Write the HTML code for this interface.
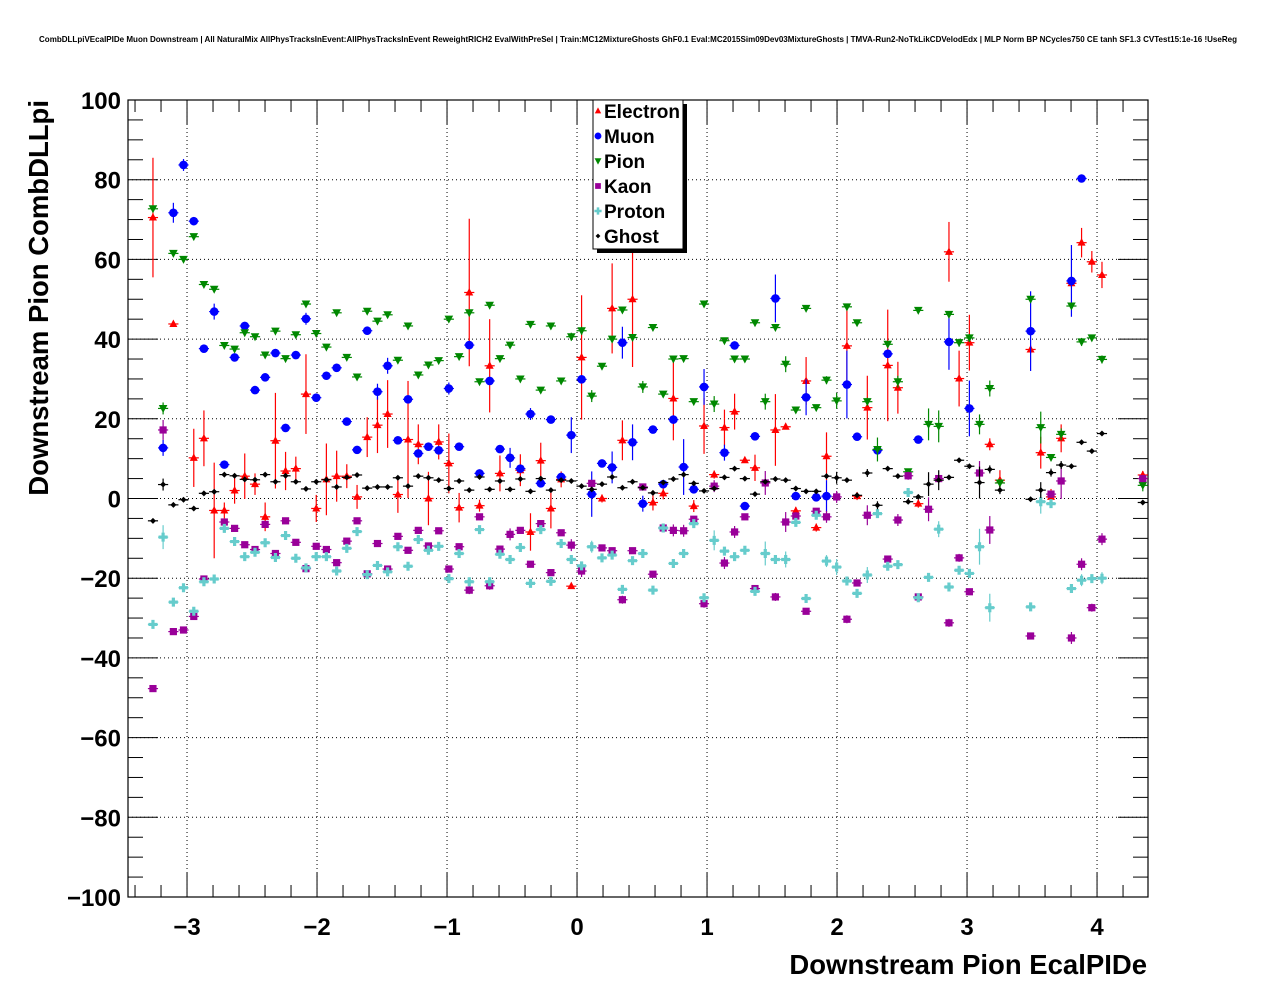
<!DOCTYPE html>
<html><head><meta charset="utf-8">
<style>
html,body{margin:0;padding:0;background:#fff;}
svg{display:block;font-family:"Liberation Sans",Arial,sans-serif;}
</style></head>
<body>
<svg id="chart" width="1276" height="996" viewBox="0 0 1276 996" xmlns="http://www.w3.org/2000/svg">
<rect x="0" y="0" width="1276" height="996" fill="#fff"/>
<text x="638" y="42" text-anchor="middle" font-size="8.2" font-weight="bold" textLength="1198" lengthAdjust="spacingAndGlyphs">CombDLLpiVEcalPIDe Muon Downstream | All NaturalMix AllPhysTracksInEvent:AllPhysTracksInEvent ReweightRICH2 EvalWithPreSel | Train:MC12MixtureGhosts GhF0.1 Eval:MC2015Sim09Dev03MixtureGhosts | TMVA-Run2-NoTkLikCDVelodEdx | MLP Norm BP NCycles750 CE tanh SF1.3 CVTest15:1e-16 !UseReg</text>
<g id="grid"></g>
<g id="axes"></g>
<g id="marks"></g>
<text x="1147" y="974" text-anchor="end" font-size="27.5" font-weight="bold">Downstream Pion EcalPIDe</text>
<text transform="translate(48,100) rotate(-90)" text-anchor="end" font-size="27.5" font-weight="bold">Downstream Pion CombDLLpi</text>
<g id="legend"></g>
</svg>
<script>
const xTicks = [-3,-2,-1,0,1,2,3,4];
const yTicks = [-100,-80,-60,-40,-20,0,20,40,60,80,100];
const xRange = [-3.454, 4.392];
const yRange = [-100, 100];
const seriesNames = ["Electron","Muon","Pion","Kaon","Proton","Ghost"];
const seriesColors = ["#ff0000","#0000ff","#008800","#990099","#66cccc","#000000"];
// points: [x, y, yErr]
const electron = [[-3.262,70.5,15],[-3.105,43.8,0.5],[-2.948,10.2,7.3],[-2.870,15.1,7],[-2.791,-3,12],[-2.713,-3,2],[-2.634,2,3.3],[-2.556,5.6,5.7],[-2.477,3.6,2.7],[-2.399,-4.6,3.6],[-2.320,14.5,12],[-2.242,6.9,4.8],[-2.163,7.5,3],[-2.085,26.2,10],[-2.006,-2.5,3.4],[-1.928,4.8,9],[-1.849,5.6,6.4],[-1.771,5.6,3],[-1.692,0.4,3],[-1.614,15.4,5],[-1.535,18.4,7],[-1.457,21.2,8.5],[-1.378,1,4.6],[-1.300,14.8,14.7],[-1.221,13.6,5],[-1.143,0,6.7],[-1.064,14.2,4.4],[-0.986,8.8,7.5],[-0.907,-2.3,3.7],[-0.829,51.7,18.5],[-0.750,-1.8,1.5],[-0.672,33.3,11.7],[-0.593,6.3,4.5],[-0.436,7.1,4],[-0.358,-8.4,4.7],[-0.279,9.5,4.5],[-0.201,-2.5,5],[-0.122,4.8,2],[-0.044,-22,0.5],[0.035,35.4,15.6],[0.192,0,1],[0.270,47.7,11.3],[0.349,14.6,5],[0.427,50,17],[0.584,-1,2],[0.663,1.3,1.5],[0.741,25.1,10.5],[0.898,-1.9,1.5],[0.977,18.2,7],[1.055,6,1],[1.134,17.8,4.5],[1.212,21.8,4.5],[1.291,9.6,0.5],[1.369,7.7,3.3],[1.526,17.2,9],[1.605,18,0.5],[1.683,-3.1,1],[1.762,29.5,6],[1.840,-7.3,1],[1.919,10.6,6],[2.076,38.3,9.5],[2.154,0.6,1],[2.233,22.8,8],[2.390,33.4,14],[2.468,27.8,6.5],[2.625,-1.3,1],[2.861,61.9,7.5],[2.939,30.1,7],[3.018,39.1,7],[3.175,13.6,1.5],[3.253,4.6,2.5],[3.489,37.4,1],[3.567,11.5,4],[3.646,0.4,2],[3.724,15.1,3.5],[3.803,54,1],[3.881,64.2,3.7],[3.960,59.4,2.7],[4.038,56.1,3.3],[4.352,5.9,1]];
const muon = [[-3.184,12.7,2],[-3.105,71.7,2.5],[-3.027,83.7,1.5],[-2.948,69.6,0.5],[-2.870,37.6,0.5],[-2.791,46.9,2],[-2.713,8.5,0.5],[-2.634,35.4,0.5],[-2.556,43.3,0.5],[-2.477,27.2,0.5],[-2.399,30.4,0.5],[-2.320,36.5,0.5],[-2.242,17.7,0.5],[-2.163,36,0.5],[-2.085,45.1,1.5],[-2.006,25.3,0.5],[-1.928,30.8,0.5],[-1.849,32.8,0.5],[-1.771,19.3,0.5],[-1.692,12.2,0.5],[-1.614,42.1,1],[-1.535,26.8,2],[-1.457,33.3,2],[-1.378,14.6,0.5],[-1.300,24.9,0.5],[-1.221,11.3,1],[-1.143,13,0.5],[-1.064,12.1,1],[-0.986,27.6,1.5],[-0.907,13,0.5],[-0.829,38.5,0.5],[-0.750,6.3,0.5],[-0.672,29.5,0.5],[-0.593,12.4,0.5],[-0.515,10.2,2.5],[-0.436,7.5,0.5],[-0.358,21.2,1.5],[-0.279,3.8,0.5],[-0.201,19.8,1],[-0.122,5.4,1],[-0.044,15.9,4.5],[0.035,29.9,0.5],[0.113,1.1,5.7],[0.192,8.8,0.5],[0.270,7.8,4],[0.349,39.1,4],[0.427,14.1,4.5],[0.506,-1.3,2],[0.584,17.3,0.5],[0.663,3.6,0.5],[0.741,19.8,0.5],[0.820,7.9,7],[0.898,2.3,0.5],[0.977,28,4.5],[1.134,11.5,2],[1.212,38.4,0.5],[1.291,-1.9,1],[1.369,15.6,0.5],[1.526,50.2,6],[1.683,0.6,0.5],[1.762,25.4,4.5],[1.840,0.3,0.5],[1.919,0.6,4],[2.076,28.6,8.5],[2.154,15.5,0.5],[2.311,12.1,0.5],[2.390,36.3,0.5],[2.625,14.8,0.5],[2.861,39.3,7],[3.018,22.6,7],[3.489,42,10],[3.803,54.6,9],[3.881,80.3,0.5]];
const pion = [[-3.262,72.7,0.5],[-3.184,22.6,1.5],[-3.105,61.5,0.5],[-3.027,60,0.5],[-2.948,65.7,0.5],[-2.870,53.7,0.5],[-2.791,52.5,0.5],[-2.713,38.4,0.5],[-2.634,37.5,0.5],[-2.556,41.6,0.5],[-2.477,40.6,0.5],[-2.399,36,0.5],[-2.320,42,0.5],[-2.242,35.1,0.5],[-2.163,41.1,0.5],[-2.085,48.8,0.5],[-2.006,41.4,0.5],[-1.928,38,0.5],[-1.849,46.6,0.5],[-1.771,35.4,0.5],[-1.692,30.5,0.5],[-1.614,47,0.5],[-1.535,44.5,0.5],[-1.457,46.1,0.5],[-1.378,34.7,0.5],[-1.300,43.3,0.5],[-1.221,31,0.5],[-1.143,33.5,0.5],[-1.064,34.6,0.5],[-0.986,45,0.5],[-0.907,35.6,0.5],[-0.829,46.6,0.5],[-0.750,29.3,0.5],[-0.672,48.5,0.5],[-0.593,35.1,0.5],[-0.515,38.5,0.5],[-0.436,30,0.5],[-0.358,43.7,0.5],[-0.279,27.2,0.5],[-0.201,43.3,0.5],[-0.122,29.5,0.5],[-0.044,40.6,1],[0.035,42.1,1],[0.113,25.7,1.5],[0.192,33.2,0.5],[0.270,40,0.5],[0.349,47.3,0.5],[0.427,40.4,0.5],[0.506,28,1.5],[0.584,42.9,0.5],[0.663,26.2,0.5],[0.741,35,0.5],[0.820,35.1,0.5],[0.898,24.3,0.5],[0.977,48.8,0.5],[1.055,23.7,2],[1.134,39.6,0.5],[1.212,35,0.5],[1.291,35,0.5],[1.369,44.1,0.5],[1.448,24.3,2],[1.526,42.9,0.5],[1.605,33.7,2],[1.683,22.2,0.5],[1.762,47.7,0.5],[1.840,22.8,0.5],[1.919,29.7,1],[1.997,24.5,2],[2.076,48.1,0.5],[2.154,44.1,0.5],[2.233,24.3,1],[2.311,12.3,3],[2.390,38.7,0.5],[2.468,29.3,1.5],[2.547,6.7,0.5],[2.625,47.2,0.5],[2.704,18.6,4],[2.782,18.1,4],[2.861,46.2,0.5],[2.939,39.1,1],[3.018,40.3,1],[3.096,18.6,2.5],[3.175,27.6,2],[3.253,3.9,1],[3.489,50,0.5],[3.567,17.8,4],[3.646,10.3,0.5],[3.724,16.1,1.5],[3.803,48.3,0.5],[3.881,39.3,1],[3.960,40.3,0.5],[4.038,34.9,1],[4.352,3.3,1.5]];
const kaon = [[-3.262,-47.7,0.5],[-3.184,17.2,2.5],[-3.105,-33.4,0.5],[-3.027,-33,0.5],[-2.948,-29.6,0.5],[-2.870,-20.2,0.5],[-2.713,-5.9,0.5],[-2.634,-7.5,0.5],[-2.556,-11.6,0.5],[-2.477,-12.8,0.5],[-2.399,-6.5,0.5],[-2.320,-13.8,0.5],[-2.242,-5.6,0.5],[-2.163,-11,0.5],[-2.085,-17.6,0.5],[-2.006,-12,0.5],[-1.928,-12.8,0.5],[-1.849,-16.1,0.5],[-1.771,-10.7,0.5],[-1.692,-5.6,0.5],[-1.614,-18.9,0.5],[-1.535,-11.3,0.5],[-1.457,-17.7,0.5],[-1.378,-9.5,0.5],[-1.300,-13,0.5],[-1.221,-8,0.5],[-1.143,-11.9,0.5],[-1.064,-8.1,0.5],[-0.986,-17.7,0.5],[-0.907,-12.1,0.5],[-0.829,-23,1],[-0.750,-4.6,0.5],[-0.672,-21.9,1],[-0.593,-12.7,0.5],[-0.515,-9,1.5],[-0.436,-8,0.5],[-0.358,-16.5,0.5],[-0.279,-6.3,0.5],[-0.201,-18.6,0.5],[-0.122,-8.6,0.5],[-0.044,-11.7,1.5],[0.035,-18.2,1.5],[0.113,3.8,0.5],[0.192,-12.4,0.5],[0.270,-13.1,0.5],[0.349,-25.4,1],[0.427,-13.1,0.5],[0.506,2.9,0.5],[0.584,-19,0.5],[0.663,-7.4,0.5],[0.741,-8,1.5],[0.820,-8.1,1.5],[0.898,-5.2,0.5],[0.977,-26.4,1],[1.055,3.1,1.5],[1.134,-16.2,1.5],[1.212,-8.4,1.5],[1.291,-4.6,0.5],[1.369,-22.6,0.5],[1.448,3.9,3],[1.526,-24.7,1],[1.605,-5.9,2.5],[1.683,-4.4,1],[1.762,-28.3,0.5],[1.840,-3.2,0.5],[1.919,-4.6,1.5],[1.997,0.4,1.5],[2.076,-30.3,1],[2.154,-21.2,0.5],[2.233,-4.2,2.5],[2.390,-15.2,0.5],[2.468,-5.4,1.5],[2.547,5.7,1],[2.625,-24.7,0.5],[2.704,-2.7,3],[2.782,5,0.5],[2.861,-31.2,1],[2.939,-14.9,1],[3.018,-23.4,0.5],[3.096,6.4,3],[3.175,-7.9,3.5],[3.489,-34.5,0.5],[3.646,1.1,0.5],[3.724,4.4,4.5],[3.803,-35,1.5],[3.881,-16.5,1.5],[3.960,-27.4,1],[4.038,-10.2,1.5],[4.352,5,0.5]];
const proton = [[-3.262,-31.6,0.5],[-3.184,-9.7,3],[-3.105,-26,0.5],[-3.027,-22.4,0.5],[-2.948,-28.3,0.5],[-2.870,-20.9,0.5],[-2.791,-20.2,0.5],[-2.713,-7.5,0.5],[-2.634,-10.8,0.5],[-2.556,-14.6,0.5],[-2.477,-13.5,0.5],[-2.399,-11.1,0.5],[-2.320,-14.8,0.5],[-2.242,-9.3,0.5],[-2.163,-15,0.5],[-2.085,-17.4,0.5],[-2.006,-14.6,0.5],[-1.928,-14.6,0.5],[-1.849,-18.2,0.5],[-1.771,-12.5,0.5],[-1.692,-8.3,0.5],[-1.614,-19.1,0.5],[-1.535,-16.8,0.5],[-1.457,-18.4,0.5],[-1.378,-12.1,0.5],[-1.300,-17,0.5],[-1.221,-10.3,0.5],[-1.143,-13,0.5],[-1.064,-12,0.5],[-0.986,-20.1,0.5],[-0.907,-13.8,0.5],[-0.829,-20.9,0.5],[-0.750,-7.8,0.5],[-0.672,-20.9,0.5],[-0.593,-14,0.5],[-0.515,-15.3,0.5],[-0.436,-12.3,0.5],[-0.358,-21.3,0.5],[-0.279,-7.8,0.5],[-0.201,-20.8,0.5],[-0.122,-11.3,0.5],[-0.044,-15.3,1],[0.035,-16.9,0.5],[0.113,-12.1,1.5],[0.192,-14.9,0.5],[0.270,-14.2,1],[0.349,-22.8,0.5],[0.427,-15.6,1],[0.506,-13.8,1],[0.584,-23,0.5],[0.663,-7.4,0.5],[0.741,-16.3,1],[0.820,-13.8,1],[0.898,-6.3,0.5],[0.977,-24.9,1],[1.055,-10.5,2.5],[1.134,-13.2,1],[1.212,-14.6,1],[1.291,-13,1],[1.369,-23.3,0.5],[1.448,-13.8,3],[1.526,-15.3,1],[1.605,-15.3,2],[1.683,-6,0.5],[1.762,-25.1,0.5],[1.840,-4.2,0.5],[1.919,-15.7,1.5],[1.997,-17.2,2],[2.076,-20.7,0.5],[2.154,-23.8,0.5],[2.233,-19.2,2],[2.311,-3.8,0.5],[2.390,-17,1],[2.468,-16.6,1],[2.547,1.5,0.5],[2.625,-24.9,0.5],[2.704,-19.8,0.5],[2.782,-7.7,2],[2.861,-22.2,0.5],[2.939,-18,1],[3.018,-18.8,0.5],[3.096,-12.1,4.5],[3.175,-27.4,3.5],[3.489,-27.2,0.5],[3.567,-0.8,3],[3.646,-1.3,0.5],[3.803,-22.6,0.5],[3.881,-20.5,1.5],[3.960,-20.1,1],[4.038,-20,1.5]];
const ghost = [[-3.262,-5.6,0.5],[-3.184,3.5,1.5],[-3.105,-1.6,0.5],[-3.027,-0.3,0.5],[-2.948,-2.5,0.5],[-2.870,1.3,0.5],[-2.791,1.7,0.5],[-2.713,6,0.5],[-2.634,5.7,0.5],[-2.556,4.8,0.5],[-2.477,4.7,0.5],[-2.399,6,0.5],[-2.320,4.2,0.5],[-2.242,5.7,0.5],[-2.163,4.2,0.5],[-2.085,2.4,0.5],[-2.006,4.2,0.5],[-1.928,4.7,0.5],[-1.849,2.9,0.5],[-1.771,5.3,0.5],[-1.692,5.9,0.5],[-1.614,2.6,0.5],[-1.535,2.9,0.5],[-1.457,2.9,0.5],[-1.378,5.2,0.5],[-1.300,3.1,0.5],[-1.221,5.6,0.5],[-1.143,5.2,0.5],[-1.064,4.6,0.5],[-0.986,2.5,0.5],[-0.907,4.4,0.5],[-0.829,2.1,0.5],[-0.750,5.4,0.5],[-0.672,2.3,0.5],[-0.593,4.4,0.5],[-0.515,2.3,0.5],[-0.436,4.9,0.5],[-0.358,1.8,0.5],[-0.279,5,0.5],[-0.201,2.1,0.5],[-0.122,4.6,0.5],[-0.044,4.4,0.5],[0.035,3.1,0.5],[0.113,2.3,0.5],[0.192,3.6,0.5],[0.270,5.4,0.5],[0.349,2.7,0.5],[0.427,4.2,0.5],[0.506,2.7,0.5],[0.584,1.4,0.5],[0.663,4,0.5],[0.741,4.9,0.5],[0.820,6,0.5],[0.898,3.8,0.5],[0.977,1.9,0.5],[1.055,2.5,0.5],[1.134,5.3,0.5],[1.212,7.5,0.5],[1.291,5,0.5],[1.369,1.1,0.5],[1.448,4.2,0.5],[1.526,4.9,0.5],[1.605,4.6,0.5],[1.683,2.5,0.5],[1.762,1.8,0.5],[1.840,1.8,0.5],[1.919,5.6,0.5],[1.997,5.2,1.5],[2.076,4.6,0.5],[2.154,0.8,0.5],[2.233,6.4,1],[2.311,-1.7,1],[2.390,7.5,0.5],[2.468,5.6,0.5],[2.547,-0.8,0.5],[2.625,0.4,0.5],[2.704,3.6,3],[2.782,4.6,2.5],[2.861,5.3,0.5],[2.939,9.6,0.5],[3.018,8.1,0.5],[3.096,4,4],[3.175,7.3,1],[3.253,2.1,1],[3.489,-0.2,0.5],[3.567,2.1,2],[3.646,6.5,1],[3.724,8.4,1],[3.803,8.1,0.5],[3.881,14.1,0.5],[3.960,11.9,0.5],[4.038,16.3,0.5],[4.352,-1,0.5]];
const seriesData = [electron, muon, pion, kaon, proton, ghost];

const L=128, R=1148, T=100, B=897;
const halfBin = 0.039;
function sx(v){ return L + (v - xRange[0]) / (xRange[1]-xRange[0]) * (R-L); }
function sy(v){ return B - (v - yRange[0]) / (yRange[1]-yRange[0]) * (B-T); }
const NS="http://www.w3.org/2000/svg";
function mk(tag, attrs, parent){ const e=document.createElementNS(NS,tag); for(const k in attrs) e.setAttribute(k, attrs[k]); parent.appendChild(e); return e; }

const grid=document.getElementById('grid'), axes=document.getElementById('axes'), marks=document.getElementById('marks');
xTicks.forEach(t=>{ const l=mk('line',{x1:sx(t),x2:sx(t),y1:T,y2:B,stroke:'#000','stroke-width':1,'stroke-dasharray':'1,3'},grid);
  
   });
yTicks.forEach(t=>{ if(t===100||t===-100) return; const l=mk('line',{x1:L,x2:R,y1:sy(t),y2:sy(t),stroke:'#000','stroke-width':1,'stroke-dasharray':'1,3'},grid);
  
   });
const fr=mk('rect',{x:L,y:T,width:R-L,height:B-T,fill:'none',stroke:'#000','stroke-width':1.2},axes);


for(let i=-17;i<=21;i++){ const v=i*0.2; if(v<xRange[0]||v>xRange[1]) continue; const major=Math.abs(v-Math.round(v))<1e-6; const len=major?24:12;
  mk('line',{x1:sx(v),x2:sx(v),y1:B,y2:B-len,stroke:'#000','stroke-width':1},axes);
  mk('line',{x1:sx(v),x2:sx(v),y1:T,y2:T+len,stroke:'#000','stroke-width':1},axes); }
for(let v=-100; v<=100; v+=5){ const major=(v%20===0); const len=major?30:15;
  mk('line',{x1:L,x2:L+len,y1:sy(v),y2:sy(v),stroke:'#000','stroke-width':1},axes);
  mk('line',{x1:R,x2:R-len,y1:sy(v),y2:sy(v),stroke:'#000','stroke-width':1},axes); }
xTicks.forEach(t=>{ const tx=mk('text',{x:sx(t),y:935,'text-anchor':'middle','font-size':24,'font-weight':'bold'},axes); tx.textContent=(t<0?'\u2212'+(-t):String(t));
  
   });
yTicks.forEach(t=>{ const tx=mk('text',{x:121,y:sy(t)+9,'text-anchor':'end','font-size':24,'font-weight':'bold'},axes); tx.textContent=(t<0?'\u2212'+(-t):String(t));
  
   });

function marker(idx, cx, cy, parent, s){
  const c=seriesColors[idx]; s=s||1; let e;
  if(idx===0) e=mk('polygon',{points:`${cx},${cy-4.5*s} ${cx-4*s},${cy+3*s} ${cx+4*s},${cy+3*s}`,fill:c},parent);
  else if(idx===1) e=mk('circle',{cx:cx,cy:cy,r:4.3*s,fill:c},parent);
  else if(idx===2) e=mk('polygon',{points:`${cx},${cy+4.5*s} ${cx-4.3*s},${cy-3.5*s} ${cx+4.3*s},${cy-3.5*s}`,fill:c},parent);
  else if(idx===3) e=mk('rect',{x:cx-3.6*s,y:cy-3.6*s,width:7.2*s,height:7.2*s,fill:c},parent);
  else if(idx===4) e=mk('path',{d:`M${cx-1.6*s},${cy-4.5*s}h${3.2*s}v${2.9*s}h${2.9*s}v${3.2*s}h${-2.9*s}v${2.9*s}h${-3.2*s}v${-2.9*s}h${-2.9*s}v${-3.2*s}h${2.9*s}z`,fill:c},parent);
  else e=mk('polygon',{points:`${cx},${cy-3*s} ${cx+3*s},${cy} ${cx},${cy+3*s} ${cx-3*s},${cy}`,fill:c},parent);
  return e;
}
seriesData.forEach((data,idx)=>{
  const g=mk('g',{},marks);
  
  
  data.forEach(p=>{
    const cx=sx(p[0]), cy=sy(p[1]);
    mk('line',{x1:sx(p[0]-halfBin),x2:sx(p[0]+halfBin),y1:cy,y2:cy,stroke:seriesColors[idx],'stroke-width':1.2},g);
    mk('line',{x1:cx,x2:cx,y1:sy(p[1]+p[2]),y2:sy(p[1]-p[2]),stroke:seriesColors[idx],'stroke-width':1.2},g);
    const m=marker(idx,cx,cy,g);
    
    
  });
});
const lg=document.getElementById('legend');
mk('rect',{x:597,y:104,width:90,height:149,fill:'#000'},lg);
const lb=mk('rect',{x:593,y:100,width:90,height:149,fill:'#fff',stroke:'#000','stroke-width':1},lg);


seriesNames.forEach((n,i)=>{
  const y=111+i*25;
  const g=mk('g',{},lg);
  
  
  marker(i,598,y,g,0.8);
  const t=mk('text',{x:604,y:y+7,'font-size':19,'font-weight':'bold'},g); t.textContent=n;
});
</script>
</body></html>
